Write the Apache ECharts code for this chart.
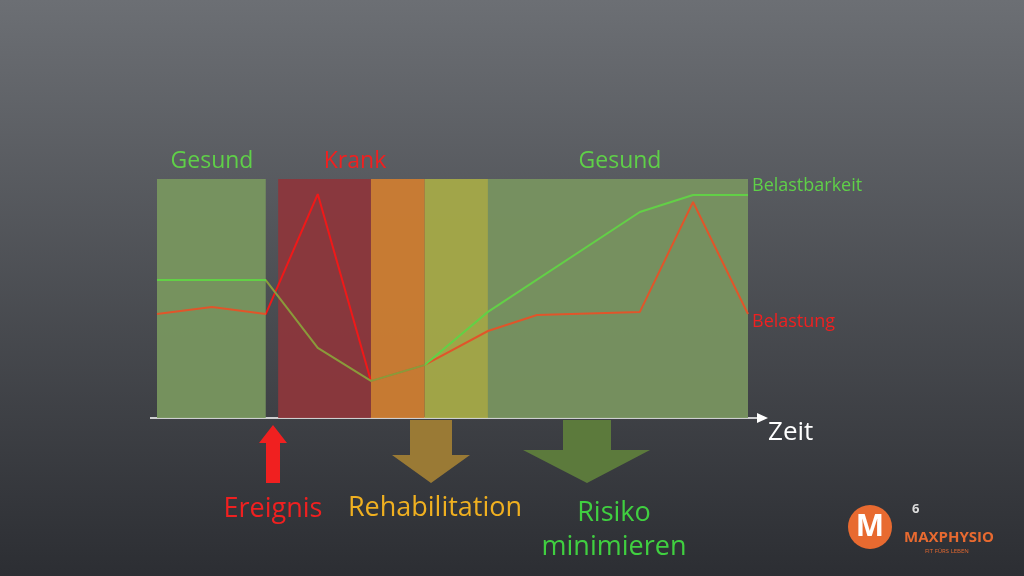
<!DOCTYPE html>
<html><head><meta charset="utf-8">
<script src="https://cdn.jsdelivr.net/npm/echarts@6/dist/echarts.min.js"></script>
<style>html,body{margin:0;padding:0}#c{width:1024px;height:576px}</style>
</head><body><div id="c"></div>
<script>
// phases on the time axis (0..100)
var phases = [
  {name: 'Gesund', from: 0, to: 18.4, color: 'rgba(120,150,95,0.95)'},
  {name: 'Krank', from: 20.5, to: 36.2, color: 'rgba(140,55,60,0.95)'},
  {name: 'Reha1', from: 36.2, to: 45.3, color: 'rgba(205,125,50,0.95)'},
  {name: 'Reha2', from: 45.3, to: 56.0, color: 'rgba(165,170,72,0.95)'},
  {name: 'Gesund2', from: 56.0, to: 100, color: 'rgba(120,148,96,0.95)'}
];
var belastbarkeit = [[0,57.7],[18.4,57.7],[27.2,29.3],[36.2,15.5],[45.3,22.2],[56.0,44.4],[81.7,86.2],[90.7,93.3],[100,93.3]];
var belastung = [[0,43.5],[9.3,46.4],[18.4,43.5],[27.2,93.7],[36.2,15.5],[45.3,22.2],[56.0,36.4],[64.3,43.1],[81.7,44.4],[90.7,90.4],[100,43.5]];

var chart = echarts.init(document.getElementById('c'));
var font = 'Open Sans';
function txt(x, y, s, color, size, align) {
  return {type: 'text', x: x, y: y, style: {text: s, fill: color, font: size + 'px "' + font + '"', textAlign: align || 'left', textVerticalAlign: 'middle',
    shadowColor: 'rgba(0,0,0,0.5)', shadowBlur: 3, shadowOffsetX: 1, shadowOffsetY: 1}};
}
chart.setOption({
  backgroundColor: {type: 'linear', x: 0, y: 0, x2: 0, y2: 1, colorStops: [{offset: 0, color: '#6c6f74'}, {offset: 1, color: '#2c2e33'}]},
  grid: {left: 157, right: 276, top: 179, bottom: 158},
  xAxis: {type: 'value', min: 0, max: 100, show: false},
  yAxis: {type: 'value', min: 0, max: 100, show: false},
  visualMap: [
    {show: false, seriesIndex: 0, dimension: 0, pieces: [{lt: 18.4, color: '#62d046'}, {gte: 18.4, lt: 45.3, color: '#8a9a3a'}, {gte: 45.3, color: '#62d046'}]},
    {show: false, seriesIndex: 1, dimension: 0, pieces: [{lt: 18.4, color: '#e0552a'}, {gte: 18.4, lt: 36.2, color: '#f01818'}, {gte: 36.2, color: '#e0552a'}]}
  ],
  series: [
    {type: 'line', data: belastbarkeit, symbol: 'none', lineStyle: {width: 2}, z: 3,
      markArea: {silent: true, data: phases.map(function (p) {
        return [{xAxis: p.from, yAxis: 0, itemStyle: {color: p.color}}, {xAxis: p.to, yAxis: 100}];
      })}},
    {type: 'line', data: belastung, symbol: 'none', lineStyle: {width: 2}, z: 2}
  ],
  graphic: [
    {type: 'line', shape: {x1: 150, y1: 418, x2: 762, y2: 418}, style: {stroke: '#ffffff', lineWidth: 1.5}},
    {type: 'polygon', shape: {points: [[768, 418], [757, 413], [757, 423]]}, style: {fill: '#ffffff'}},
    {type: 'polygon', shape: {points: [[273, 425], [259, 443], [266, 443], [266, 483], [280, 483], [280, 443], [287, 443]]}, style: {fill: '#f02020'}},
    {type: 'polygon', shape: {points: [[410, 420], [452, 420], [452, 455], [470, 455], [431, 483], [392, 455], [410, 455]]}, style: {fill: '#9a7a35'}},
    {type: 'polygon', shape: {points: [[563, 420], [611, 420], [611, 450], [650, 450], [587, 483], [523, 450], [563, 450]]}, style: {fill: '#5c7a3c'}},
    txt(212, 161, 'Gesund', '#5fd048', 23, 'center'),
    txt(355, 161, 'Krank', '#f02020', 23, 'center'),
    txt(620, 161, 'Gesund', '#5fd048', 23, 'center'),
    txt(752, 186, 'Belastbarkeit', '#5fd048', 18),
    txt(752, 322, 'Belastung', '#f02020', 18),
    txt(768, 433, 'Zeit', '#ffffff', 26),
    txt(273, 509, 'Ereignis', '#f02020', 27, 'center'),
    txt(435, 508, 'Rehabilitation', '#f0b020', 27, 'center'),
    txt(614, 513, 'Risiko', '#40d040', 27, 'center'),
    txt(614, 547, 'minimieren', '#40d040', 27, 'center'),
    {type: 'circle', shape: {cx: 870, cy: 527, r: 22}, style: {fill: '#e86a30'}},
    {type: 'text', x: 870, y: 527, style: {text: 'M', fill: '#ffffff', font: 'bold 30px "Open Sans"', textAlign: 'center', textVerticalAlign: 'middle'}},
    {type: 'text', x: 912, y: 503, style: {text: '6', fill: '#dddddd', font: 'bold 13px "Open Sans"'}},
    {type: 'text', x: 904, y: 530, style: {text: 'MAXPHYSIO', fill: '#e86a30', font: 'bold 15px "Open Sans"'}},
    {type: 'text', x: 925, y: 548, style: {text: 'FIT FÜRS LEBEN', fill: '#e86a30', font: '6px "Open Sans"'}}
  ]
});
</script></body></html>
